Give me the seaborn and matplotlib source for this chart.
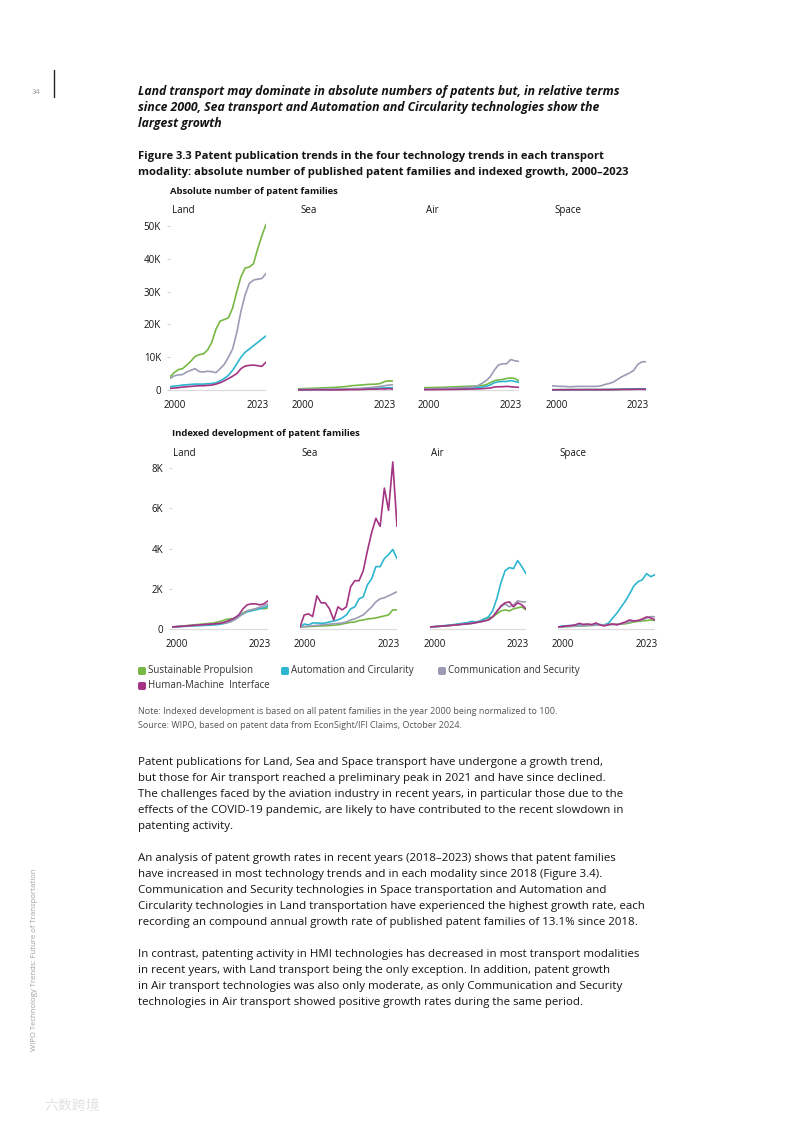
import matplotlib
matplotlib.use("Agg")
import matplotlib.pyplot as plt
import matplotlib.transforms as mtransforms
from matplotlib.patches import FancyBboxPatch
from matplotlib.ticker import FuncFormatter
import pandas as pd
import seaborn as sns

# ---------------- data ----------------
years = list(range(2000, 2024))
modalities = ["Land", "Sea", "Air", "Space"]
trends = ["Sustainable Propulsion", "Automation and Circularity",
          "Communication and Security", "Human-Machine  Interface"]
colors = ["#76B843", "#2DB6CF", "#9B9CB4", "#A33483"]

# Absolute number of patent families (thousands)
land_abs_sp = [4.0, 5.3, 6.2, 6.5, 7.6, 8.8, 10.2, 10.8, 11.0, 12.2, 14.5, 18.5, 21.0, 21.5, 22.0, 25.0, 30.0, 34.5, 37.2, 37.5, 38.5, 43.0, 47.0, 50.5]
land_abs_ac = [1.0, 1.2, 1.3, 1.5, 1.6, 1.7, 1.8, 1.8, 1.8, 1.9, 2.0, 2.2, 2.8, 3.5, 4.5, 6.0, 8.0, 10.0, 11.5, 12.5, 13.5, 14.5, 15.5, 16.5]
land_abs_cs = [3.5, 4.3, 4.6, 4.7, 5.5, 6.0, 6.5, 5.6, 5.5, 5.7, 5.6, 5.3, 6.5, 7.8, 10.0, 12.5, 17.5, 24.0, 29.0, 32.5, 33.5, 33.8, 34.0, 35.5]
land_abs_hmi = [0.5, 0.6, 0.7, 0.9, 1.0, 1.1, 1.2, 1.3, 1.3, 1.4, 1.5, 1.8, 2.2, 2.8, 3.5, 4.2, 5.0, 6.5, 7.3, 7.5, 7.6, 7.4, 7.2, 8.5]

sea_abs_sp = [0.4, 0.4, 0.45, 0.5, 0.55, 0.6, 0.65, 0.7, 0.75, 0.8, 0.9, 1.0, 1.1, 1.3, 1.4, 1.5, 1.6, 1.7, 1.75, 1.8, 2.0, 2.6, 2.8, 2.7]
sea_abs_ac = [0.1, 0.1, 0.1, 0.12, 0.12, 0.13, 0.14, 0.15, 0.16, 0.18, 0.2, 0.22, 0.25, 0.28, 0.3, 0.33, 0.38, 0.42, 0.48, 0.52, 0.6, 0.65, 0.7, 0.7]
sea_abs_cs = [0.2, 0.2, 0.2, 0.22, 0.23, 0.24, 0.25, 0.27, 0.28, 0.29, 0.3, 0.32, 0.36, 0.4, 0.45, 0.5, 0.6, 0.7, 0.8, 0.95, 1.1, 1.3, 1.5, 1.6]
sea_abs_hmi = [0.005, 0.035, 0.038, 0.031, 0.08, 0.065, 0.065, 0.05, 0.023, 0.055, 0.048, 0.055, 0.105, 0.12, 0.12, 0.145, 0.195, 0.24, 0.275, 0.255, 0.35, 0.295, 0.415, 0.255]

air_abs_sp = [0.7, 0.72, 0.75, 0.78, 0.8, 0.85, 0.9, 0.95, 1.0, 1.05, 1.1, 1.15, 1.2, 1.25, 1.35, 1.6, 2.2, 2.8, 3.1, 3.2, 3.5, 3.7, 3.5, 2.8]
air_abs_ac = [0.3, 0.32, 0.34, 0.36, 0.38, 0.4, 0.42, 0.45, 0.48, 0.5, 0.55, 0.6, 0.65, 0.75, 0.9, 1.1, 1.5, 2.2, 2.5, 2.6, 2.6, 2.9, 2.6, 2.3]
air_abs_cs = [0.3, 0.35, 0.4, 0.42, 0.45, 0.5, 0.55, 0.6, 0.65, 0.7, 0.8, 0.9, 1.0, 1.3, 2.0, 2.8, 4.0, 6.0, 7.6, 8.0, 8.0, 9.3, 8.9, 8.7]
air_abs_hmi = [0.1, 0.11, 0.12, 0.13, 0.14, 0.15, 0.17, 0.18, 0.2, 0.22, 0.25, 0.28, 0.3, 0.35, 0.4, 0.5, 0.6, 0.9, 1.0, 1.0, 1.1, 1.0, 0.9, 0.8]

space_abs_sp = [0.1, 0.1, 0.1, 0.1, 0.1, 0.1, 0.1, 0.1, 0.12, 0.12, 0.12, 0.12, 0.13, 0.13, 0.14, 0.15, 0.16, 0.18, 0.2, 0.22, 0.24, 0.26, 0.28, 0.3]
space_abs_ac = [0.08, 0.09, 0.09, 0.1, 0.1, 0.1, 0.11, 0.11, 0.12, 0.12, 0.12, 0.12, 0.13, 0.14, 0.16, 0.18, 0.2, 0.25, 0.3, 0.32, 0.35, 0.38, 0.36, 0.38]
space_abs_cs = [1.3, 1.2, 1.1, 1.1, 1.0, 1.0, 1.1, 1.1, 1.1, 1.1, 1.1, 1.1, 1.3, 1.7, 2.0, 2.4, 3.2, 4.0, 4.6, 5.2, 6.0, 7.8, 8.6, 8.6]
space_abs_hmi = [0.05, 0.06, 0.07, 0.08, 0.09, 0.1, 0.1, 0.1, 0.1, 0.11, 0.1, 0.09, 0.1, 0.11, 0.1, 0.12, 0.15, 0.18, 0.17, 0.18, 0.2, 0.24, 0.22, 0.2]

# Indexed development (2000 = 100)
land_idx_sp = [100, 120, 140, 160, 180, 200, 220, 240, 260, 280, 300, 350, 400, 480, 500, 520, 650, 800, 900, 950, 1000, 1050, 1000, 1050]
land_idx_ac = [100, 110, 120, 130, 140, 150, 160, 170, 180, 190, 200, 220, 250, 300, 400, 520, 650, 750, 850, 900, 950, 1000, 1050, 1150]
land_idx_cs = [100, 115, 130, 145, 160, 175, 190, 205, 220, 235, 250, 270, 290, 300, 350, 450, 600, 750, 900, 950, 1000, 1080, 1150, 1250]
land_idx_hmi = [100, 115, 130, 145, 160, 180, 195, 210, 225, 240, 250, 270, 300, 370, 450, 550, 700, 1000, 1200, 1250, 1250, 1200, 1250, 1400]

sea_idx_sp = [100, 110, 120, 130, 140, 150, 160, 170, 190, 210, 250, 290, 330, 350, 420, 450, 500, 520, 550, 600, 650, 700, 950, 950]
sea_idx_ac = [100, 250, 200, 300, 300, 280, 300, 350, 400, 450, 550, 700, 1000, 1100, 1500, 1600, 2200, 2500, 3100, 3100, 3500, 3700, 3950, 3500]
sea_idx_cs = [100, 120, 140, 160, 180, 200, 220, 240, 260, 280, 300, 350, 450, 500, 600, 700, 900, 1100, 1350, 1500, 1550, 1650, 1750, 1850]
sea_idx_hmi = [100, 700, 750, 620, 1650, 1300, 1300, 1000, 450, 1100, 950, 1100, 2100, 2400, 2400, 2900, 3900, 4800, 5500, 5100, 7000, 5900, 8300, 5100]

air_idx_sp = [100, 115, 130, 145, 160, 180, 200, 220, 240, 260, 280, 320, 380, 500, 550, 600, 750, 900, 950, 900, 1000, 1050, 1100, 950]
air_idx_ac = [100, 120, 140, 160, 180, 200, 230, 260, 290, 320, 380, 350, 400, 500, 600, 900, 1500, 2300, 2900, 3050, 3000, 3400, 3100, 2750]
air_idx_cs = [100, 115, 130, 145, 160, 180, 200, 220, 240, 260, 280, 320, 350, 400, 450, 600, 900, 1100, 1250, 1100, 1200, 1400, 1350, 1350]
air_idx_hmi = [100, 115, 130, 145, 160, 180, 200, 220, 240, 260, 280, 320, 350, 400, 450, 600, 850, 1150, 1300, 1350, 1100, 1300, 1200, 1000]

space_idx_sp = [100, 110, 120, 130, 140, 150, 160, 170, 180, 190, 200, 210, 220, 230, 240, 250, 260, 300, 350, 380, 400, 420, 450, 420]
space_idx_ac = [100, 150, 160, 170, 180, 200, 180, 190, 200, 210, 220, 200, 300, 550, 800, 1100, 1400, 1750, 2150, 2350, 2450, 2750, 2600, 2700]
space_idx_cs = [100, 110, 120, 130, 140, 150, 160, 170, 180, 190, 200, 210, 220, 230, 240, 260, 300, 350, 400, 420, 450, 550, 620, 600]
space_idx_hmi = [100, 120, 150, 170, 200, 280, 230, 250, 220, 300, 200, 150, 220, 250, 200, 280, 350, 450, 400, 420, 500, 600, 550, 450]

abs_series = {
    "Land": [land_abs_sp, land_abs_ac, land_abs_cs, land_abs_hmi],
    "Sea": [sea_abs_sp, sea_abs_ac, sea_abs_cs, sea_abs_hmi],
    "Air": [air_abs_sp, air_abs_ac, air_abs_cs, air_abs_hmi],
    "Space": [space_abs_sp, space_abs_ac, space_abs_cs, space_abs_hmi],
}
idx_series = {
    "Land": [land_idx_sp, land_idx_ac, land_idx_cs, land_idx_hmi],
    "Sea": [sea_idx_sp, sea_idx_ac, sea_idx_cs, sea_idx_hmi],
    "Air": [air_idx_sp, air_idx_ac, air_idx_cs, air_idx_hmi],
    "Space": [space_idx_sp, space_idx_ac, space_idx_cs, space_idx_hmi],
}


def to_long(series):
    rows = []
    for mod in modalities:
        for tr, vals in zip(trends, series[mod]):
            for yr, v in zip(years, vals):
                rows.append({"modality": mod, "trend": tr, "year": yr, "value": v})
    return pd.DataFrame(rows)


df_abs = to_long(abs_series)
df_idx = to_long(idx_series)

# ---------------- figure ----------------
sns.set_theme(style="white")
plt.rcParams["font.family"] = ["Open Sans", "DejaVu Sans"]

W, H = 793, 1122
fig = plt.figure(figsize=(W / 100, H / 100), dpi=100)
fig.patch.set_facecolor("white")
TXT = "#141414"


def txt(x, y, s, **kw):
    kw.setdefault("color", TXT)
    kw.setdefault("va", "center")
    return fig.text(x / W, 1 - y / H, s, **kw)


def add_ax(x0, x1, y_top, y_bot):
    return fig.add_axes([x0 / W, 1 - y_bot / H, (x1 - x0) / W, (y_bot - y_top) / H])


def style_panel(ax, ylim, yticks, fmt, show_y):
    ax.set_xlim(2000, 2023)
    ax.set_ylim(*ylim)
    for s in ax.spines.values():
        s.set_visible(False)
    ax.axhline(0, color="#dcdcdc", lw=0.9, zorder=0)
    ax.set_xticks([2000, 2023])
    ax.set_xticklabels(["2000", "2023"])
    ax.tick_params(axis="x", length=0, pad=6, labelsize=7, labelcolor=TXT)
    offs = [5, -8]
    for lab, dx in zip(ax.get_xticklabels(), offs):
        lab.set_transform(lab.get_transform() + mtransforms.ScaledTranslation(dx / 100, 0, fig.dpi_scale_trans))
    if show_y:
        ax.set_yticks(yticks)
        ax.yaxis.set_major_formatter(FuncFormatter(fmt))
        ax.tick_params(axis="y", length=2.5, width=0.6, color="#c8c8c8", pad=4,
                       labelsize=7, labelcolor=TXT, left=True)
    else:
        ax.set_yticks([])
    ax.set_xlabel("")
    ax.set_ylabel("")
    ax.patch.set_alpha(0)


fmt_abs = lambda v, p: "0" if v == 0 else f"{v:g}K"
fmt_idx = lambda v, p: "0" if v == 0 else f"{v / 1000:g}K"

# top row (absolute)
top_x = {"Land": (170, 266), "Sea": (298, 393), "Air": (424, 519), "Space": (552, 646)}
k_top = 164 / 50.0  # px per thousand
for mod in modalities:
    x0, x1 = top_x[mod]
    ax = add_ax(x0, x1, 390 - 52 * k_top, 390 + 0.6 * k_top)
    sns.lineplot(data=df_abs[df_abs.modality == mod], x="year", y="value", hue="trend",
                 hue_order=trends, palette=colors, ax=ax, legend=False, linewidth=1.2)
    style_panel(ax, (-0.6, 52), [0, 10, 20, 30, 40, 50], fmt_abs, mod == "Land")
    txt(x0 + 2, 211, mod, fontsize=7)

# bottom row (indexed)
bot_x = {"Land": (172, 268), "Sea": (300, 397), "Air": (430, 526), "Space": (558, 655)}
k_bot = 161 / 8000.0
for mod in modalities:
    x0, x1 = bot_x[mod]
    ax = add_ax(x0, x1, 629 - 8500 * k_bot, 629 + 100 * k_bot)
    sns.lineplot(data=df_idx[df_idx.modality == mod], x="year", y="value", hue="trend",
                 hue_order=trends, palette=colors, ax=ax, legend=False, linewidth=1.2)
    style_panel(ax, (-100, 8500), [0, 2000, 4000, 6000, 8000], fmt_idx, mod == "Land")
    txt(x0 + 1, 453, mod, fontsize=7)

# ---------------- texts ----------------
txt(36, 93, "34", fontsize=5.5, color="#9a9a9a", ha="center")
fig.add_artist(plt.Line2D([54 / W, 54 / W], [1 - 70 / H, 1 - 97 / H], color="#222222", lw=1.0))

title_lines = ["Land transport may dominate in absolute numbers of patents but, in relative terms",
               "since 2000, Sea transport and Automation and Circularity technologies show the",
               "largest growth"]
for i, l in enumerate(title_lines):
    txt(138, 91 + i * 16.5, l, fontsize=8.85, fontweight="bold", fontstyle="italic")

cap_lines = ["Figure 3.3 Patent publication trends in the four technology trends in each transport",
             "modality: absolute number of published patent families and indexed growth, 2000\u20132023"]
for i, l in enumerate(cap_lines):
    txt(138, 156 + i * 16, l, fontsize=8.15, fontweight="bold")

txt(170, 192, "Absolute number of patent families", fontsize=6.8, fontweight="bold")
txt(172, 433, "Indexed development of patent families", fontsize=6.8, fontweight="bold")

# legend (manual swatches + labels)
leg_items = [(0, 138, 671), (1, 281, 671), (2, 438, 671), (3, 138, 686)]
for i, x, y in leg_items:
    sw = FancyBboxPatch((x / W, 1 - (y + 4) / H), 8 / W, 8 / H,
                        boxstyle="round,pad=0,rounding_size=0.002",
                        transform=fig.transFigure, facecolor=colors[i], edgecolor="none")
    fig.add_artist(sw)
    txt(x + 10, y, trends[i], fontsize=7, color="#333333")

txt(138, 712, "Note: Indexed development is based on all patent families in the year 2000 being normalized to 100.",
    fontsize=6.5, color="#555555")
txt(138, 726, "Source: WIPO, based on patent data from EconSight/IFI Claims, October 2024.",
    fontsize=6.5, color="#555555")

paras = [
    ["Patent publications for Land, Sea and Space transport have undergone a growth trend,",
     "but those for Air transport reached a preliminary peak in 2021 and have since declined.",
     "The challenges faced by the aviation industry in recent years, in particular those due to the",
     "effects of the COVID-19 pandemic, are likely to have contributed to the recent slowdown in",
     "patenting activity."],
    ["An analysis of patent growth rates in recent years (2018\u20132023) shows that patent families",
     "have increased in most technology trends and in each modality since 2018 (Figure 3.4).",
     "Communication and Security technologies in Space transportation and Automation and",
     "Circularity technologies in Land transportation have experienced the highest growth rate, each",
     "recording an compound annual growth rate of published patent families of 13.1% since 2018."],
    ["In contrast, patenting activity in HMI technologies has decreased in most transport modalities",
     "in recent years, with Land transport being the only exception. In addition, patent growth",
     "in Air transport technologies was also only moderate, as only Communication and Security",
     "technologies in Air transport showed positive growth rates during the same period."],
]
starts = [763, 859, 955]
for st, lines in zip(starts, paras):
    for i, l in enumerate(lines):
        txt(138, st + i * 16, l, fontsize=8.25)

txt(35, 960, "WIPO Technology Trends: Future of Transportation", fontsize=5.6,
    color="#a0a0a0", rotation=90, ha="center")
txt(72, 1106, "六数跨境", fontsize=10, color="#e2e2e2", ha="center",
    family=["Noto Sans CJK SC", "DejaVu Sans"])

fig.savefig("out.png", dpi=100, facecolor="white")
